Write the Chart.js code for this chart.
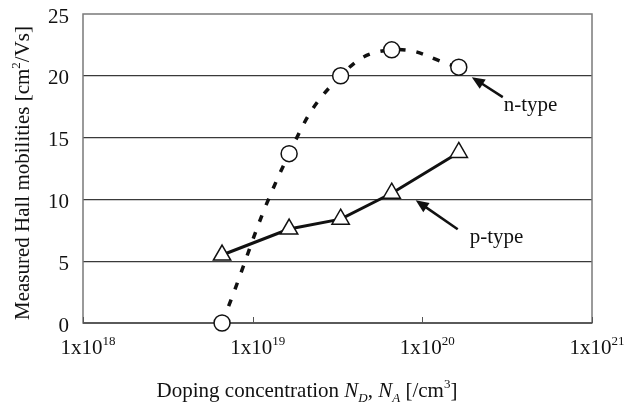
<!DOCTYPE html>
<html>
<head>
<meta charset="utf-8">
<script src="https://cdn.jsdelivr.net/npm/chart.js@4/dist/chart.umd.min.js"></script>
<style>
  html, body { margin: 0; padding: 0; background: #fff; }
  #wrap { width: 628px; height: 408px; position: relative; }
</style>
</head>
<body>
<div id="wrap"><canvas id="hallChart"></canvas></div>
<script>
// --- DATA ---
const dopingLevels = [6.6e18, 1.64e19, 3.3e19, 6.6e19, 1.64e20];   // cm^-3
const nTypeMobility = [0, 13.7, 20.0, 22.1, 20.7];                  // cm^2/Vs
const pTypeMobility = [5.5, 7.6, 8.4, 10.5, 13.8];                  // cm^2/Vs
const xTickExponents = [18, 19, 20, 21];
const yTickValues = [0, 5, 10, 15, 20, 25];

const SERIF = '"Liberation Serif", "Times New Roman", serif';
const INK = '#111';
const FONT_SIZE = 21;

// --- TEXT HELPERS ---
// runs: [{t, italic, sub, sup}] drawn left to right from x on baseline y
function runFont(r, size) {
    const s = (r.sub || r.sup) ? Math.round(size * 0.62) : size;
    return (r.italic ? 'italic ' : '') + s + 'px ' + SERIF;
}
function runsWidth(ctx, runs, size) {
    let w = 0;
    runs.forEach(r => { ctx.font = runFont(r, size); w += ctx.measureText(r.t).width; });
    return w;
}
function drawRuns(ctx, runs, x, y, size) {
    ctx.textBaseline = 'alphabetic';
    ctx.textAlign = 'left';
    runs.forEach(r => {
        ctx.font = runFont(r, size);
        let dy = 0;
        if (r.sup) dy = -size * 0.42;
        if (r.sub) dy = size * 0.22;
        ctx.fillText(r.t, x, y + dy);
        x += ctx.measureText(r.t).width;
    });
}

function drawArrow(ctx, x1, y1, x2, y2) {
    const ang = Math.atan2(y2 - y1, x2 - x1);
    const head = 13, half = 5.5;
    ctx.strokeStyle = INK;
    ctx.fillStyle = INK;
    ctx.lineWidth = 2.5;
    ctx.beginPath();
    ctx.moveTo(x1, y1);
    ctx.lineTo(x2 - Math.cos(ang) * head * 0.8, y2 - Math.sin(ang) * head * 0.8);
    ctx.stroke();
    ctx.beginPath();
    ctx.moveTo(x2, y2);
    ctx.lineTo(x2 - Math.cos(ang) * head - Math.sin(ang) * half, y2 - Math.sin(ang) * head + Math.cos(ang) * half);
    ctx.lineTo(x2 - Math.cos(ang) * head + Math.sin(ang) * half, y2 - Math.sin(ang) * head - Math.cos(ang) * half);
    ctx.closePath();
    ctx.fill();
}

// --- PLUGIN: frame, ticks, axis titles, callouts ---
const decorations = {
    id: 'decorations',
    beforeDatasetsDraw(chart) {
        const { ctx, chartArea: a, scales: { x } } = chart;
        ctx.save();
        ctx.strokeStyle = '#7a7a7a';
        ctx.lineWidth = 1.5;
        ctx.strokeRect(a.left, a.top, a.right - a.left, a.bottom - a.top);
        // bottom axis a little darker
        ctx.strokeStyle = '#444';
        ctx.beginPath();
        ctx.moveTo(a.left, a.bottom);
        ctx.lineTo(a.right, a.bottom);
        ctx.stroke();
        // small inward tick marks on the log axis
        ctx.strokeStyle = '#555';
        ctx.lineWidth = 1;
        xTickExponents.forEach(e => {
            const px = Math.round(x.getPixelForValue(Math.pow(10, e))) + 0.5;
            ctx.beginPath();
            ctx.moveTo(px, a.bottom);
            ctx.lineTo(px, a.bottom - 6);
            ctx.stroke();
        });
        ctx.restore();
    },
    afterDraw(chart) {
        const { ctx, chartArea: a, scales: { x, y } } = chart;
        ctx.save();
        ctx.fillStyle = INK;

        // y tick labels
        ctx.font = FONT_SIZE + 'px ' + SERIF;
        ctx.textAlign = 'right';
        ctx.textBaseline = 'middle';
        yTickValues.forEach(v => ctx.fillText(String(v), a.left - 14, y.getPixelForValue(v) + 3));

        // x tick labels: 1x10^n
        xTickExponents.forEach(e => {
            const runs = [{ t: '1x10' }, { t: String(e), sup: true }];
            const w = runsWidth(ctx, runs, FONT_SIZE);
            const px = x.getPixelForValue(Math.pow(10, e));
            ctx.fillStyle = INK;
            drawRuns(ctx, runs, px - w / 2 + 5, a.bottom + 31, FONT_SIZE);
        });

        // x axis title
        const xTitle = [
            { t: 'Doping concentration ' },
            { t: 'N', italic: true }, { t: 'D', italic: true, sub: true },
            { t: ', ' },
            { t: 'N', italic: true }, { t: 'A', italic: true, sub: true },
            { t: ' [/cm' }, { t: '3', sup: true }, { t: ']' }
        ];
        const xw = runsWidth(ctx, xTitle, FONT_SIZE);
        drawRuns(ctx, xTitle, 307 - xw / 2, 397, FONT_SIZE);

        // y axis title, rotated
        const yTitle = [
            { t: 'Measured Hall mobilities [cm' }, { t: '2', sup: true }, { t: '/Vs]' }
        ];
        const yw = runsWidth(ctx, yTitle, FONT_SIZE);
        ctx.save();
        ctx.translate(29, 173);
        ctx.rotate(-Math.PI / 2);
        drawRuns(ctx, yTitle, -yw / 2, 0, FONT_SIZE);
        ctx.restore();

        // callouts anchored on the series points
        const last = dopingLevels.length - 1;
        const nx = x.getPixelForValue(dopingLevels[last]);
        const ny = y.getPixelForValue(nTypeMobility[last]);
        drawArrow(ctx, nx + 44, ny + 30, nx + 13, ny + 10);
        ctx.font = FONT_SIZE + 'px ' + SERIF;
        ctx.textAlign = 'left';
        ctx.textBaseline = 'alphabetic';
        ctx.fillStyle = INK;
        ctx.fillText('n-type', nx + 45, ny + 44);

        const px = x.getPixelForValue(dopingLevels[3]);
        const py = y.getPixelForValue(pTypeMobility[3]);
        drawArrow(ctx, px + 66, py + 36, px + 24, py + 7);
        ctx.fillStyle = INK;
        ctx.fillText('p-type', px + 78, py + 50);

        ctx.restore();
    }
};

// --- CHART ---
const nPoints = dopingLevels.map((d, i) => ({ x: d, y: nTypeMobility[i] }));
const pPoints = dopingLevels.map((d, i) => ({ x: d, y: pTypeMobility[i] }));

new Chart(document.getElementById('hallChart'), {
    type: 'line',
    data: {
        datasets: [
            {
                label: 'n-type',
                data: nPoints,
                borderColor: INK,
                borderWidth: 3.5,
                borderDash: [7, 11],
                tension: 0.45,
                pointStyle: 'circle',
                pointRadius: 8,
                pointBorderWidth: 1.5,
                pointBorderColor: INK,
                pointBackgroundColor: '#fff',
                clip: false
            },
            {
                label: 'p-type',
                data: pPoints,
                borderColor: INK,
                borderWidth: 3,
                tension: 0,
                pointStyle: 'triangle',
                pointRadius: 10,
                pointBorderWidth: 1.5,
                pointBorderColor: INK,
                pointBackgroundColor: '#fff',
                clip: false
            }
        ]
    },
    options: {
        responsive: true,
        maintainAspectRatio: false,
        animation: false,
        layout: { padding: { left: 83, right: 36, top: 14, bottom: 77 } },
        plugins: { legend: { display: false }, tooltip: { enabled: false } },
        scales: {
            x: {
                type: 'logarithmic',
                min: 1e18,
                max: 1e21,
                ticks: { display: false },
                grid: { display: false },
                border: { display: false }
            },
            y: {
                min: 0,
                max: 25,
                ticks: { display: false, stepSize: 5 },
                grid: {
                    drawTicks: false,
                    color: ctx => (ctx.tick && (ctx.tick.value === 0 || ctx.tick.value === 25)) ? 'rgba(0,0,0,0)' : '#3a3a3a',
                    lineWidth: 1.2
                },
                border: { display: false }
            }
        }
    },
    plugins: [decorations]
});
</script>
</body>
</html>
